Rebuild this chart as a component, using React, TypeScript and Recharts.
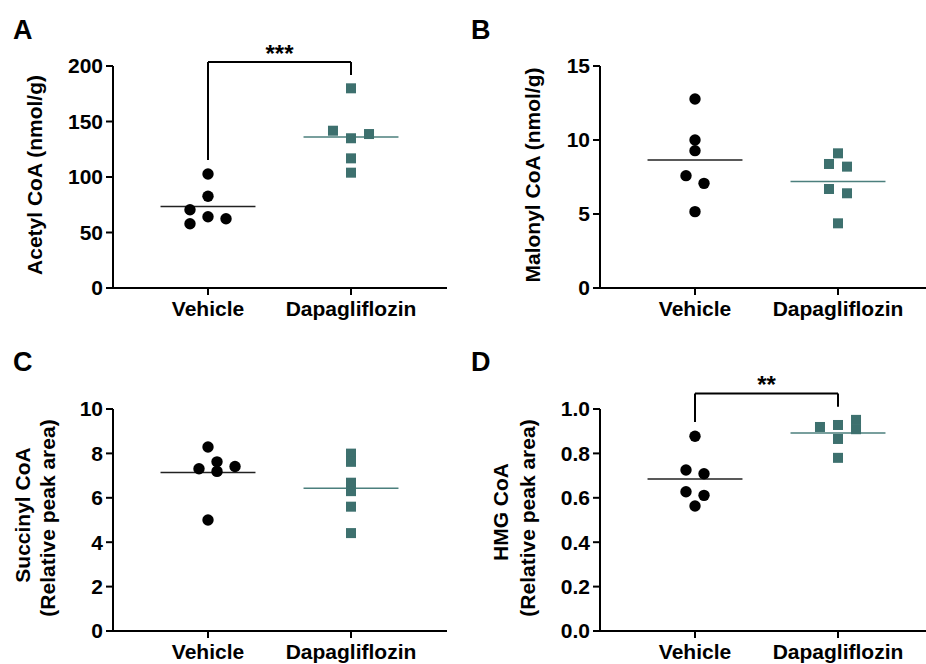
import React from "react";
import {
  ReferenceLine,
  Scatter,
  ScatterChart,
  XAxis,
  YAxis,
} from "recharts";

const FONT = "'Liberation Sans', Arial, Helvetica, sans-serif";
const TEAL = "#3d706e";
const TEAL_LINE = "#4b7f7d";

const GROUPS = ["Vehicle", "Dapagliflozin"];

// Acetyl CoA (nmol/g)
const acetylVehicle = [102.7, 82.6, 70.5, 64.2, 62.4, 57.9];
const acetylVehicleCol = [0, 0, -2, 0, 2, -2];
const acetylDapa = [179.9, 141.7, 134.9, 138.7, 116.8, 103.9];
const acetylDapaCol = [0, -2, 0, 2, 0, 0];
const acetylTicks = [0, 50, 100, 150, 200];

// Malonyl CoA (nmol/g)
const malonylVehicle = [12.77, 10.0, 9.28, 7.59, 7.07, 5.16];
const malonylVehicleCol = [0, 0, 0, -1, 1, 0];
const malonylDapa = [9.1, 8.38, 8.2, 6.69, 6.4, 4.37];
const malonylDapaCol = [0, -1, 1, -1, 1, 0];
const malonylTicks = [0, 5, 10, 15];

// Succinyl CoA (relative peak area)
const succinylVehicle = [8.29, 7.62, 7.31, 7.41, 7.19, 5.0];
const succinylVehicleCol = [0, 1, -1, 3, 1, 0];
const succinylDapa = [7.99, 7.62, 6.68, 6.3, 5.6, 4.41];
const succinylDapaCol = [0, 0, 0, 0, 0, 0];
const succinylTicks = [0, 2, 4, 6, 8, 10];

// HMG CoA (relative peak area)
const hmgVehicle = [0.877, 0.725, 0.708, 0.627, 0.611, 0.563];
const hmgVehicleCol = [0, -1, 1, -1, 1, 0];
const hmgDapa = [0.919, 0.928, 0.865, 0.78, 0.951, 0.909];
const hmgDapaCol = [-2, 0, 0, 0, 2, 2];
const hmgTicks = [0, 0.2, 0.4, 0.6, 0.8, 1.0];

// significance brackets: [top, left leg end, right leg end]
const acetylBracket = [203.6, 115.3, 191.9];
const hmgBracket = [1.07, 0.941, 1.01];

const JITTER = 0.063; // x units per jitter column
const MEAN_HALF = 0.332;
const X_MIN = 1 - 95 / 143;

const mean = (a: number[]) => a.reduce((s, v) => s + v, 0) / a.length;
const toPoints = (vals: number[], cols: number[], group: number) =>
  vals.map((v, i) => ({ x: group + cols[i] * JITTER, y: v }));

const circleShape = (p: any) => <circle cx={p.cx} cy={p.cy} r={5.7} fill="#000" />;
const squareShape = (p: any) => (
  <rect x={p.cx - 5} y={p.cy - 5} width={10} height={10} fill={TEAL} />
);

type PanelProps = {
  left: number;
  top: number;
  letter: string;
  plotLeft: number;
  plotTop: number;
  plotRight: number;
  vehicle: number[];
  vehicleCol: number[];
  dapa: number[];
  dapaCol: number[];
  ticks: number[];
  decimals: number;
  labelLines: string[];
  labelX: number[];
  labelY: number[];
  bracket?: number[];
  stars?: string;
};

function Panel(props: PanelProps) {
  const W = 463;
  const H = 332;
  const plotBottom = props.plotTop + 222;
  const plotW = props.plotRight - props.plotLeft;
  const xMax = 1 + (plotW - 95) / 143;
  const yMax = props.ticks[props.ticks.length - 1];
  const axisStyle = { stroke: "#000", strokeWidth: 2 };
  const tickStyle = { fill: "#000", fontSize: 21, fontWeight: "bold", fontFamily: FONT };
  const mV = mean(props.vehicle);
  const mD = mean(props.dapa);
  const b = props.bracket;

  return (
    <div style={{ position: "absolute", left: props.left, top: props.top, width: W, height: H }}>
      <ScatterChart
        width={W}
        height={H}
        margin={{
          top: props.plotTop,
          left: props.plotLeft - 60,
          right: W - props.plotRight,
          bottom: H - plotBottom - 30,
        }}
      >
        <XAxis
          type="number"
          dataKey="x"
          domain={[X_MIN, xMax]}
          ticks={[1, 2]}
          allowDataOverflow
          tickFormatter={(v: number) => GROUPS[Math.round(v) - 1]}
          axisLine={axisStyle}
          tickLine={axisStyle}
          tickSize={7}
          tickMargin={6}
          tick={tickStyle}
          height={30}
          interval={0}
        />
        <YAxis
          type="number"
          dataKey="y"
          domain={[0, yMax]}
          ticks={props.ticks}
          tickFormatter={(v: number) => v.toFixed(props.decimals)}
          axisLine={axisStyle}
          tickLine={axisStyle}
          tickSize={7}
          tickMargin={3}
          tick={tickStyle}
          width={60}
          interval={0}
        />
        <ReferenceLine
          segment={[{ x: 1 - MEAN_HALF, y: mV }, { x: 1 + MEAN_HALF, y: mV }]}
          stroke="#222"
          strokeWidth={1.5}
        />
        <ReferenceLine
          segment={[{ x: 2 - MEAN_HALF, y: mD }, { x: 2 + MEAN_HALF, y: mD }]}
          stroke={TEAL_LINE}
          strokeWidth={1.5}
        />
        {b && (
          <ReferenceLine
            segment={[{ x: 1, y: b[0] }, { x: 2, y: b[0] }]}
            stroke="#000"
            strokeWidth={2}
            ifOverflow="visible"
            label={{
              value: props.stars,
              position: "top",
              offset: 0,
              fontSize: 24,
              fontWeight: "bold",
              fill: "#000",
              fontFamily: FONT,
            }}
          />
        )}
        {b && (
          <ReferenceLine
            segment={[{ x: 1, y: b[0] }, { x: 1, y: b[1] }]}
            stroke="#000"
            strokeWidth={2}
            ifOverflow="visible"
          />
        )}
        {b && (
          <ReferenceLine
            segment={[{ x: 2, y: b[0] }, { x: 2, y: b[2] }]}
            stroke="#000"
            strokeWidth={2}
            ifOverflow="visible"
          />
        )}
        <Scatter
          data={toPoints(props.vehicle, props.vehicleCol, 1)}
          shape={circleShape}
          isAnimationActive={false}
        />
        <Scatter
          data={toPoints(props.dapa, props.dapaCol, 2)}
          shape={squareShape}
          isAnimationActive={false}
        />
      </ScatterChart>
      <svg
        width={W}
        height={H}
        style={{ position: "absolute", left: 0, top: 0, pointerEvents: "none" }}
      >
        <text
          x={props.left === 0 ? 13 : 8}
          y={39}
          fontSize={27}
          fontWeight="bold"
          fontFamily={FONT}
          fill="#000"
        >
          {props.letter}
        </text>
        {props.labelLines.map((line, i) => (
          <text
            key={line}
            x={props.labelX[i]}
            y={props.labelY[i]}
            transform={`rotate(-90 ${props.labelX[i]} ${props.labelY[i]})`}
            textAnchor="middle"
            fontSize={21}
            fontWeight="bold"
            fontFamily={FONT}
            fill="#000"
          >
            {line}
          </text>
        ))}
      </svg>
    </div>
  );
}

export default function App() {
  return (
    <div
      style={{
        position: "absolute",
        left: 0,
        top: 0,
        width: 926,
        height: 664,
        overflow: "hidden",
        background: "#fff",
      }}
    >
      <Panel
        left={0}
        top={0}
        letter="A"
        plotLeft={113}
        plotTop={66}
        plotRight={447}
        vehicle={acetylVehicle}
        vehicleCol={acetylVehicleCol}
        dapa={acetylDapa}
        dapaCol={acetylDapaCol}
        ticks={acetylTicks}
        decimals={0}
        labelLines={["Acetyl CoA (nmol/g)"]}
        labelX={[42]}
        labelY={[175]}
        bracket={acetylBracket}
        stars="***"
      />
      <Panel
        left={463}
        top={0}
        letter="B"
        plotLeft={137}
        plotTop={66}
        plotRight={463}
        vehicle={malonylVehicle}
        vehicleCol={malonylVehicleCol}
        dapa={malonylDapa}
        dapaCol={malonylDapaCol}
        ticks={malonylTicks}
        decimals={0}
        labelLines={["Malonyl CoA (nmol/g)"]}
        labelX={[77]}
        labelY={[175]}
      />
      <Panel
        left={0}
        top={332}
        letter="C"
        plotLeft={113}
        plotTop={77}
        plotRight={447}
        vehicle={succinylVehicle}
        vehicleCol={succinylVehicleCol}
        dapa={succinylDapa}
        dapaCol={succinylDapaCol}
        ticks={succinylTicks}
        decimals={0}
        labelLines={["Succinyl CoA", "(Relative peak area)"]}
        labelX={[30, 55]}
        labelY={[183, 186]}
      />
      <Panel
        left={463}
        top={332}
        letter="D"
        plotLeft={137}
        plotTop={77}
        plotRight={463}
        vehicle={hmgVehicle}
        vehicleCol={hmgVehicleCol}
        dapa={hmgDapa}
        dapaCol={hmgDapaCol}
        ticks={hmgTicks}
        decimals={1}
        labelLines={["HMG CoA", "(Relative peak area)"]}
        labelX={[45, 72]}
        labelY={[180, 186]}
        bracket={hmgBracket}
        stars="**"
      />
    </div>
  );
}
